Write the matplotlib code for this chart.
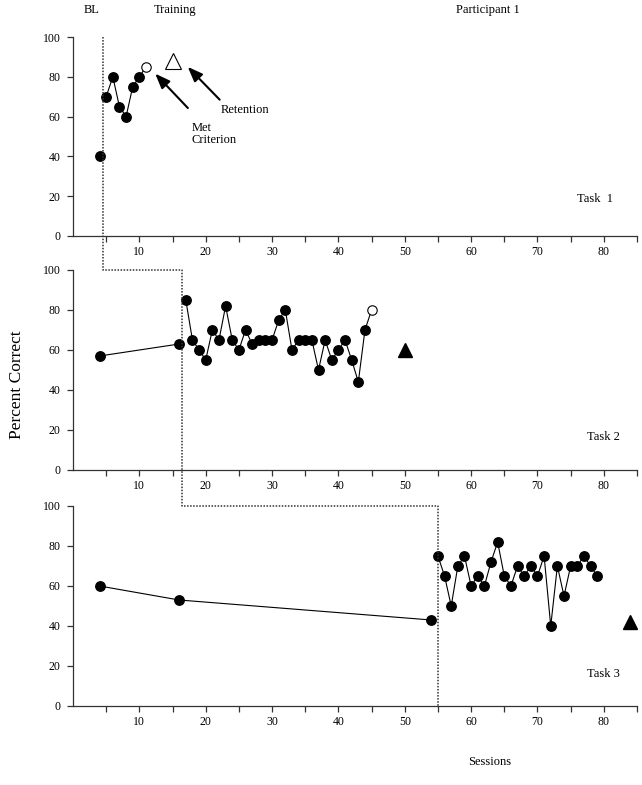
import matplotlib
matplotlib.use("Agg")
import matplotlib.pyplot as plt
from matplotlib.lines import Line2D

plt.rcParams['font.family'] = ['Liberation Serif', 'DejaVu Serif']

# ---------------- data ----------------
# Task 1
t1_bl_x = [4]
t1_bl_y = [40]
t1_tr_x = [5, 6, 7, 8, 9, 10]
t1_tr_y = [70, 80, 65, 60, 75, 80]
t1_crit_x = [11]
t1_crit_y = [85]
t1_ret_x = [15]
t1_ret_y = [88]

# Task 2
t2_bl_x = [4, 16]
t2_bl_y = [57, 63]
t2_tr_x = [17, 18, 19, 20, 21, 22, 23, 24, 25, 26, 27, 28, 29, 30, 31, 32,
           33, 34, 35, 36, 37, 38, 39, 40, 41, 42, 43, 44]
t2_tr_y = [85, 65, 60, 55, 70, 65, 82, 65, 60, 70, 63, 65, 65, 65, 75, 80,
           60, 65, 65, 65, 50, 65, 55, 60, 65, 55, 44, 70]
t2_crit_x = [45]
t2_crit_y = [80]
t2_ret_x = [50]
t2_ret_y = [60]

# Task 3
t3_bl_x = [4, 16, 54]
t3_bl_y = [60, 53, 43]
t3_tr_x = [55, 56, 57, 58, 59, 60, 61, 62, 63, 64, 65, 66, 67, 68, 69, 70,
           71, 72, 73, 74, 75, 76, 77, 78, 79]
t3_tr_y = [75, 65, 50, 70, 75, 60, 65, 60, 72, 82, 65, 60, 70, 65, 70, 65,
           75, 40, 70, 55, 70, 70, 75, 70, 65]
t3_ret_x = [84]
t3_ret_y = [42]

phase_x = [4.5, 16.5, 55]
x_ticks = list(range(5, 90, 5))
x_labels = [str(t) if t % 10 == 0 and t <= 80 else '' for t in x_ticks]
y_ticks = [0, 20, 40, 60, 80, 100]

# ---------------- figure ----------------
W, H = 642, 785
fig = plt.figure(figsize=(W / 100, H / 100), dpi=100)

def frac_box(top_px, bottom_px):
    return [73 / W, 1 - bottom_px / H, 564 / W, (bottom_px - top_px) / H]

ax1 = fig.add_axes(frac_box(37, 236))
ax2 = fig.add_axes(frac_box(270, 470))
ax3 = fig.add_axes(frac_box(506, 706))
axes = [ax1, ax2, ax3]

spine_c = '#333333'
for ax in axes:
    ax.set_xlim(0, 85)
    ax.set_ylim(0, 100)
    for s in ['top', 'right']:
        ax.spines[s].set_visible(False)
    for s in ['left', 'bottom']:
        ax.spines[s].set_color(spine_c)
        ax.spines[s].set_linewidth(0.9)
    ax.set_xticks(x_ticks)
    ax.set_xticklabels(x_labels)
    ax.set_yticks(y_ticks)
    ax.tick_params(axis='both', direction='out', length=4, width=0.9,
                   color=spine_c, labelsize=8.5)
    ax.tick_params(axis='x', pad=3)
    ax.tick_params(axis='y', pad=5)
    ax.patch.set_alpha(0)

mk = dict(marker='o', ms=6.8, color='black', mfc='black', mec='black',
          lw=0.8, clip_on=False, zorder=3)
open_mk = dict(marker='o', ms=6.8, color='black', mfc='white', mec='black',
               mew=0.8, lw=0.8, clip_on=False, zorder=3)

# Task 1
ax1.plot(t1_bl_x, t1_bl_y, **mk)
ax1.plot(t1_tr_x + t1_crit_x, t1_tr_y + t1_crit_y, color='black', lw=0.8, zorder=2)
ax1.plot(t1_tr_x, t1_tr_y, ls='none', **{k: v for k, v in mk.items() if k != 'lw'})
ax1.plot(t1_crit_x, t1_crit_y, ls='none', **{k: v for k, v in open_mk.items() if k != 'lw'})
ax1.plot(t1_ret_x, t1_ret_y, ls='none', marker='^', ms=11, mfc='white',
         mec='black', mew=0.8, clip_on=False)

# Task 2
ax2.plot(t2_bl_x, t2_bl_y, **mk)
ax2.plot(t2_tr_x + t2_crit_x, t2_tr_y + t2_crit_y, color='black', lw=0.8, zorder=2)
ax2.plot(t2_tr_x, t2_tr_y, ls='none', **{k: v for k, v in mk.items() if k != 'lw'})
ax2.plot(t2_crit_x, t2_crit_y, ls='none', **{k: v for k, v in open_mk.items() if k != 'lw'})
ax2.plot(t2_ret_x, t2_ret_y, ls='none', marker='^', ms=10, mfc='black',
         mec='black', clip_on=False)

# Task 3
ax3.plot(t3_bl_x, t3_bl_y, **mk)
ax3.plot(t3_tr_x, t3_tr_y, **mk)
ax3.plot(t3_ret_x, t3_ret_y, ls='none', marker='^', ms=10, mfc='black',
         mec='black', clip_on=False)

# Task labels
ax1.text(78.7, 18.5, 'Task  1', ha='center', va='center', fontsize=9)
ax2.text(80, 16.5, 'Task 2', ha='center', va='center', fontsize=9)
ax3.text(80, 16, 'Task 3', ha='center', va='center', fontsize=9)

# annotations in Task 1
arrow_kw = dict(arrowstyle='-|>,head_length=0.9,head_width=0.35', color='black', lw=1.5)
ax1.annotate('', xy=(12.1, 82.6), xytext=(17.6, 63.3), arrowprops=arrow_kw)
ax1.annotate('', xy=(17.0, 86.0), xytext=(22.4, 67.5), arrowprops=arrow_kw)
ax1.text(22.2, 63.3, 'Retention', ha='left', va='center', fontsize=9)
ax1.text(17.9, 51.3, 'Met\nCriterion', ha='left', va='center', fontsize=9,
         linespacing=0.95)

# phase change line (dotted staircase across panels)
pts_data = [(ax1, (phase_x[0], 100)), (ax2, (phase_x[0], 100)),
            (ax2, (phase_x[1], 100)), (ax3, (phase_x[1], 100)),
            (ax3, (phase_x[2], 100)), (ax3, (phase_x[2], 0))]
inv = fig.transFigure.inverted()
pts_fig = [inv.transform(a.transData.transform(p)) for a, p in pts_data]
xs = [p[0] for p in pts_fig]
ys = [p[1] for p in pts_fig]
fig.add_artist(Line2D(xs, ys, transform=fig.transFigure, color='#333333',
                      lw=1.1, ls=(0, (1, 1)), zorder=1))

# header texts
fig.text(92 / W, 1 - 10 / H, 'BL', ha='center', va='center', fontsize=9)
fig.text(175 / W, 1 - 10 / H, 'Training', ha='center', va='center', fontsize=9)
fig.text(488 / W, 1 - 10 / H, 'Participant 1', ha='center', va='center', fontsize=9)

fig.text(17 / W, 1 - 385 / H, 'Percent Correct', ha='center', va='center',
         rotation=90, fontsize=12.5)
fig.text(490 / W, 1 - 762 / H, 'Sessions', ha='center', va='center', fontsize=9)

fig.savefig('out.png', dpi=100)
